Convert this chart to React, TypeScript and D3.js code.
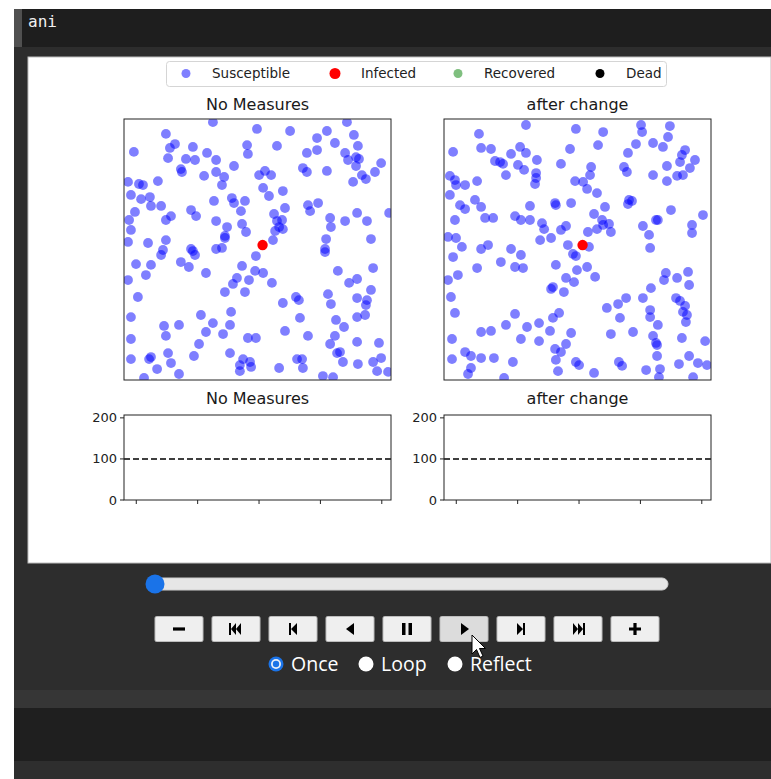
import React from 'react';
import * as d3 from 'd3';

// ---------- data ----------
const legendLabels = ['Susceptible', 'Infected', 'Recovered', 'Dead'];
const legendColors = ['#0000ff', '#ff0000', '#008000', '#000000'];
const legendAlpha = [0.5, 1, 0.5, 1];
const panelTitles = ['No Measures', 'after change'];

// susceptible positions (x, y in 0..100) for each panel
const susceptibleLeft: [number, number][] = [
  [33.3,98.8],[15.7,94.3],[49.8,96.2],[3.7,87.4],[17.2,88.9],[19.1,90.4],[25.8,89.3],[16.5,85.0],[23.2,84.7],[26.6,84.3],[31.1,87.0],[34.5,84.3],[41.2,82.0],[46.1,90.0],[46.4,86.6],[21.3,80.8],[21.7,79.7],[30.0,78.2],[34.5,79.7],[37.5,77.8],[36.7,74.7],[50.6,78.5],[1.5,75.9],[5.6,75.1],[7.1,74.7],[12.7,76.2],[2.6,70.9],[6.4,69.3],[9.7,70.1],[10.1,66.7],[13.9,66.7],[25.1,65.1],[27.0,62.8],[33.7,68.6],[40.4,69.7],[41.2,67.8],[45.3,68.6],[43.8,64.7],[4.1,64.4],[15.7,61.3],[17.6,62.8],[1.9,61.3],[34.5,60.9],[44.2,59.8],[45.7,56.7],[2.6,57.5],[38.6,58.6],[37.8,55.2],[37.8,54.4],[1.5,52.9],[9.0,52.5],[15.7,53.6],[25.1,50.2],[14.6,49.8],[34.5,50.2],
  [83.5,98.8],[62.2,95.4],[76.0,95.4],[86.1,93.9],[72.3,92.7],[57.3,89.7],[79.0,90.8],[68.5,87.0],[72.3,88.1],[82.8,87.0],[87.6,89.7],[83.9,84.3],[86.9,85.4],[88.0,84.7],[86.9,82.0],[96.3,83.1],[67.0,81.2],[68.5,79.7],[76.0,80.1],[52.8,80.1],[55.1,78.5],[89.1,78.5],[90.6,77.0],[94.0,79.7],[85.8,75.9],[52.1,73.6],[54.3,70.5],[59.5,72.4],[68.9,67.0],[69.7,64.7],[72.7,67.8],[60.3,65.9],[56.2,63.6],[57.3,60.9],[59.2,61.3],[58.1,58.6],[59.5,57.8],[56.6,57.1],[77.2,62.1],[77.5,58.6],[82.8,60.9],[87.3,64.0],[91.0,60.9],[99.3,64.0],[55.8,53.6],[75.7,54.0],[92.5,54.0],[75.3,50.2],
  [25.8,49.4],[26.6,47.9],[36.7,50.6],[13.9,47.9],[4.5,44.4],[10.1,44.1],[21.3,45.2],[24.3,43.3],[8.2,40.2],[1.5,38.3],[30.7,41.0],[44.2,43.7],[49.1,41.8],[42.3,39.1],[40.8,36.8],[37.8,33.7],[45.3,33.7],[46.8,38.3],[5.2,31.8],[40.1,26.1],[2.6,24.1],[28.8,24.9],[33.3,21.8],[15.0,20.7],[15.7,16.9],[20.6,21.1],[30.7,18.4],[37.1,17.6],[39.7,21.1],[46.4,16.1],[2.6,15.7],[28.1,13.8],[26.2,9.2],[10.1,8.8],[9.4,8.0],[2.6,8.0],[16.5,10.3],[17.6,6.5],[39.7,10.3],[44.6,8.0],[43.4,5.7],[43.4,3.4],[47.2,6.9],[47.6,5.0],[12.4,4.2],[20.6,2.3],[7.5,0.8],
  [49.4,47.5],[75.3,49.0],[52.1,41.0],[55.4,37.2],[80.1,41.8],[93.3,42.9],[84.3,37.2],[87.3,38.7],[92.5,34.5],[64.4,31.8],[65.5,30.6],[59.5,29.5],[76.4,32.9],[77.5,29.1],[87.3,31.4],[91.0,30.6],[90.6,28.7],[90.3,24.9],[87.3,24.1],[65.9,23.8],[79.4,23.0],[82.4,20.3],[60.3,18.8],[68.9,16.9],[49.4,16.1],[79.0,16.9],[77.2,13.8],[87.3,14.6],[95.5,14.2],[79.8,10.3],[80.9,10.7],[82.0,6.9],[64.8,8.0],[66.7,8.0],[67.0,4.6],[58.1,4.6],[87.6,6.1],[93.3,6.9],[96.3,8.4],[94.8,3.4],[98.9,3.1],[74.5,1.5],[78.3,1.1],
];
const susceptibleRight: [number, number][] = [
  [30.7,97.7],[13.1,94.3],[49.4,96.2],[3.4,87.4],[13.9,88.9],[17.6,88.5],[28.5,89.3],[30.7,87.0],[25.1,86.6],[19.1,83.9],[21.0,83.5],[22.1,82.8],[27.7,82.4],[30.0,80.5],[34.8,84.3],[43.8,82.8],[47.2,88.5],[23.2,78.5],[34.5,79.3],[34.5,77.4],[34.1,75.1],[49.1,76.2],[2.2,78.2],[4.1,76.6],[4.5,74.7],[7.9,74.7],[12.4,76.2],[2.2,70.9],[6.0,67.0],[7.9,65.5],[11.6,69.0],[13.9,66.3],[32.2,66.7],[41.6,67.8],[41.9,67.0],[47.6,67.8],[15.4,62.1],[18.4,62.1],[26.6,62.8],[28.8,61.3],[32.2,61.3],[36.7,60.1],[37.5,57.8],[4.1,61.3],[43.8,57.5],[45.7,59.0],[1.5,54.8],[4.5,54.4],[40.1,54.4],[36.0,53.6],[46.4,51.7],[6.7,51.0],[16.5,51.7],[13.9,50.2],[25.1,50.2],
  [73.8,97.7],[74.2,95.0],[84.6,97.3],[59.6,95.0],[83.9,93.1],[71.9,90.4],[78.3,90.8],[82.0,89.3],[57.7,90.0],[68.9,87.0],[90.3,88.1],[89.1,86.2],[88.4,83.5],[94.0,84.3],[67.4,81.6],[68.5,79.7],[55.1,81.6],[54.7,78.5],[78.3,78.5],[83.5,82.0],[92.1,81.2],[87.3,78.2],[89.5,78.5],[83.5,76.2],[52.1,75.9],[53.6,73.2],[57.3,71.6],[69.3,69.0],[70.4,68.6],[68.9,67.4],[60.3,66.3],[85.0,65.1],[97.0,63.2],[56.2,63.6],[59.2,61.3],[59.6,59.4],[61.8,59.8],[62.5,56.7],[79.4,61.3],[80.1,61.3],[92.9,59.4],[92.9,56.3],[57.3,57.8],[53.9,56.7],[74.5,59.0],[76.8,55.6],[54.3,51.0],[77.2,50.6],
  [28.8,47.9],[3.4,47.1],[12.4,42.9],[21.3,45.2],[26.6,43.3],[29.6,42.9],[5.2,40.2],[1.5,38.3],[41.9,44.1],[48.3,48.3],[45.7,39.1],[48.7,37.5],[40.8,35.6],[40.1,34.9],[44.9,33.7],[2.6,31.8],[4.1,25.7],[26.6,25.3],[43.1,25.7],[40.8,23.8],[35.6,21.8],[31.1,20.3],[23.2,21.1],[13.9,18.4],[17.6,18.8],[39.7,18.8],[47.6,18.0],[28.8,15.7],[35.6,14.9],[3.0,15.7],[45.7,13.8],[41.6,11.9],[43.8,10.7],[7.9,10.7],[10.1,9.2],[13.9,8.4],[18.7,8.4],[3.0,8.0],[25.8,6.9],[41.9,7.7],[10.1,4.6],[9.0,2.3],[42.7,3.4],[22.5,0.8],[49.4,6.9],
  [49.4,47.5],[49.8,42.1],[53.6,43.3],[56.6,39.5],[83.1,41.0],[82.4,38.3],[91.4,41.4],[87.3,39.1],[91.8,36.4],[77.5,35.2],[61.0,27.6],[65.2,29.1],[68.2,31.4],[74.5,31.4],[77.2,26.8],[77.2,24.1],[86.9,31.4],[88.4,30.3],[90.3,28.4],[89.5,26.1],[91.0,24.9],[90.6,22.2],[65.9,23.8],[80.1,21.1],[62.5,17.6],[70.8,18.4],[78.3,16.9],[79.4,14.2],[79.8,13.4],[89.1,16.1],[97.8,14.9],[79.8,9.2],[91.8,9.2],[50.6,5.7],[65.5,6.9],[66.7,5.4],[88.0,6.1],[95.1,6.5],[98.5,5.7],[56.2,2.7],[75.7,3.8],[80.9,4.2],[80.5,1.1],[93.3,1.1],
];
const infectedLeft: [number, number][] = [[51.9, 51.7]];
const infectedRight: [number, number][] = [[51.9, 51.7]];

const lowerYTicks = [0, 100, 200];
const lowerXTicks = [0, 1, 2, 3, 4];
const thresholdValue = 100;

const controlButtons = ['minus', 'first', 'prev', 'reverse', 'pause', 'play', 'next', 'last', 'plus'];
const loopModes = ['Once', 'Loop', 'Reflect'];
const cellCode = 'ani';

// ---------- layout ----------
const W = 771, H = 779;
const panelX: [number, number][] = [[124, 391], [444, 711]];
const scatterTop = 119, scatterBottom = 380;
const lowerTop = 415, lowerBottom = 500;
const DV = 'DejaVu Sans, sans-serif';

function icon(name: string) {
  const k = 'black';
  switch (name) {
    case 'minus': return <rect x={-6} y={-1.6} width={12} height={3.2} fill={k} />;
    case 'plus': return <path d="M-6,-1.6H-1.6V-6H1.6V-1.6H6V1.6H1.6V6H-1.6V1.6H-6Z" fill={k} />;
    case 'first': return <path d="M-7,-6H-5V6H-7Z M-5,0L0,-6V6Z M0,0L5,-6V6Z" fill={k} />;
    case 'prev': return <path d="M-4,-6H-2V6H-4Z M-2,0L4,-6V6Z" fill={k} />;
    case 'reverse': return <path d="M-4,0L4,-6V6Z" fill={k} />;
    case 'pause': return <path d="M-5,-6H-1.5V6H-5Z M1.5,-6H5V6H1.5Z" fill={k} />;
    case 'play': return <path d="M-3,-6L5,0L-3,6Z" fill={k} />;
    case 'next': return <path d="M-4,-6L2,0L-4,6Z M2,-6H4V6H2Z" fill={k} />;
    case 'last': return <path d="M-5,-6L0,0L-5,6Z M0,-6L5,0L0,6Z M5,-6H7V6H5Z" fill={k} />;
  }
  return null;
}

function ScatterPanel({ idx, pts, inf }: { idx: number; pts: [number, number][]; inf: [number, number][] }) {
  const [x0, x1] = panelX[idx];
  const x = d3.scaleLinear().domain([0, 100]).range([x0, x1]);
  const y = d3.scaleLinear().domain([0, 100]).range([scatterBottom, scatterTop]);
  const cid = `clip-sc-${idx}`;
  return (
    <g>
      <clipPath id={cid}>
        <rect x={x0} y={scatterTop} width={x1 - x0} height={scatterBottom - scatterTop} />
      </clipPath>
      <text x={(x0 + x1) / 2} y={scatterTop - 9} textAnchor="middle" fontFamily={DV} fontSize={16} fill="#1a1a1a">
        {panelTitles[idx]}
      </text>
      <g clipPath={`url(#${cid})`}>
        {pts.map((p, i) => (
          <circle key={i} cx={x(p[0])} cy={y(p[1])} r={4.9} fill="#0000ff" fillOpacity={0.5} />
        ))}
        {inf.map((p, i) => (
          <circle key={'i' + i} cx={x(p[0])} cy={y(p[1])} r={5.2} fill="#ff0000" />
        ))}
      </g>
      <rect x={x0} y={scatterTop} width={x1 - x0} height={scatterBottom - scatterTop} fill="none" stroke="#222" strokeWidth={1} />
    </g>
  );
}

function LowerPanel({ idx }: { idx: number }) {
  const [x0, x1] = panelX[idx];
  const x = d3.scaleLinear().domain([-0.2, 4.15]).range([x0, x1]);
  const y = d3.scaleLinear().domain([0, 207]).range([lowerBottom, lowerTop]);
  const line = d3.line<number>().x((d) => x(d)).y(() => y(thresholdValue));
  return (
    <g>
      <text x={(x0 + x1) / 2} y={lowerTop - 11} textAnchor="middle" fontFamily={DV} fontSize={16} fill="#1a1a1a">
        {panelTitles[idx]}
      </text>
      <path d={line([-0.2, 4.15]) || ''} stroke="#000" strokeWidth={1.6} strokeDasharray="6,3" fill="none" />
      <rect x={x0} y={lowerTop} width={x1 - x0} height={lowerBottom - lowerTop} fill="none" stroke="#222" strokeWidth={1} />
      {lowerYTicks.map((t) => (
        <g key={t}>
          <line x1={x0 - 4} x2={x0} y1={y(t)} y2={y(t)} stroke="#222" />
          <text x={x0 - 7} y={y(t)} dy="0.35em" textAnchor="end" fontFamily={DV} fontSize={13} fill="#222">{t}</text>
        </g>
      ))}
      {lowerXTicks.map((t) => (
        <line key={t} x1={x(t)} x2={x(t)} y1={lowerBottom} y2={lowerBottom + 4} stroke="#222" />
      ))}
    </g>
  );
}

export default function App() {
  const legendItems = legendLabels.map((l, i) => ({ l, c: legendColors[i], a: legendAlpha[i] }));
  const legendX = [186, 335, 458, 600];
  const btnX = d3.scaleLinear().domain([0, controlButtons.length - 1]).range([179, 635]);
  const radioX = [276, 366, 455];
  return (
    <svg width={W} height={H} style={{ position: 'absolute', left: 0, top: 0 }}>
      <rect x={0} y={0} width={W} height={H} fill="#ffffff" />
      {/* notebook background */}
      <rect x={14} y={9} width={W - 14} height={H - 9} fill="#2d2d2d" />
      <rect x={14} y={9} width={8} height={38} fill="#505050" />
      <rect x={22} y={9} width={W - 22} height={38} fill="#1e1e1e" />
      <text x={28} y={27} fontFamily="DejaVu Sans Mono, monospace" fontSize={16} fill="#f0f0f0">{cellCode}</text>
      <rect x={14} y={690} width={W - 14} height={18} fill="#363636" />
      <rect x={14} y={708} width={W - 14} height={53} fill="#1f1f1f" />
      <rect x={14} y={761} width={W - 14} height={18} fill="#2e2e2e" />

      {/* figure */}
      <rect x={28} y={57} width={W - 28} height={506} fill="#ffffff" stroke="#bdbdbd" strokeWidth={1} />

      {/* legend */}
      <rect x={166.5} y={61.5} width={500} height={25} rx={3} fill="#fff" stroke="#d5d5d5" />
      {legendItems.map((it, i) => (
        <g key={it.l}>
          <circle cx={legendX[i]} cy={73.5} r={it.c === '#ff0000' ? 5.5 : 4.5} fill={it.c} fillOpacity={it.a} />
          <text x={legendX[i] + 26} y={73.5} dy="0.35em" fontFamily={DV} fontSize={13.5} fill="#222">{it.l}</text>
        </g>
      ))}

      <ScatterPanel idx={0} pts={susceptibleLeft} inf={infectedLeft} />
      <ScatterPanel idx={1} pts={susceptibleRight} inf={infectedRight} />
      <LowerPanel idx={0} />
      <LowerPanel idx={1} />

      {/* slider */}
      <rect x={147} y={578} width={521} height={12} rx={6} fill="#e6e6e6" stroke="#cfcfcf" />
      <circle cx={155} cy={584} r={9.5} fill="#1a73e8" />

      {/* buttons */}
      {controlButtons.map((b, i) => (
        <g key={b} transform={`translate(${btnX(i)},629)`}>
          <rect x={-24} y={-12.5} width={48} height={25} rx={1.5} fill={b === 'play' ? '#dcdcdc' : '#efefef'} stroke="#bdbdbd" />
          {icon(b)}
        </g>
      ))}

      {/* radios */}
      {loopModes.map((m, i) => (
        <g key={m}>
          {i === 0 ? (
            <g>
              <circle cx={radioX[i]} cy={664} r={7.5} fill="#1a73e8" />
              <circle cx={radioX[i]} cy={664} r={5} fill="#e8eef8" />
              <circle cx={radioX[i]} cy={664} r={3.2} fill="#1a73e8" />
            </g>
          ) : (
            <circle cx={radioX[i]} cy={664} r={7.5} fill="#ffffff" />
          )}
          <text x={radioX[i] + 15} y={664} dy="0.35em" fontFamily="Open Sans, sans-serif" fontSize={19.5} fill="#ffffff">{m}</text>
        </g>
      ))}

      {/* mouse cursor */}
      <path d="M472,635 L472,654 L476.5,649.5 L480,657.5 L483,656 L479.5,648.5 L485.5,648.5 Z" fill="#ffffff" stroke="#000" strokeWidth={1} />
    </svg>
  );
}
